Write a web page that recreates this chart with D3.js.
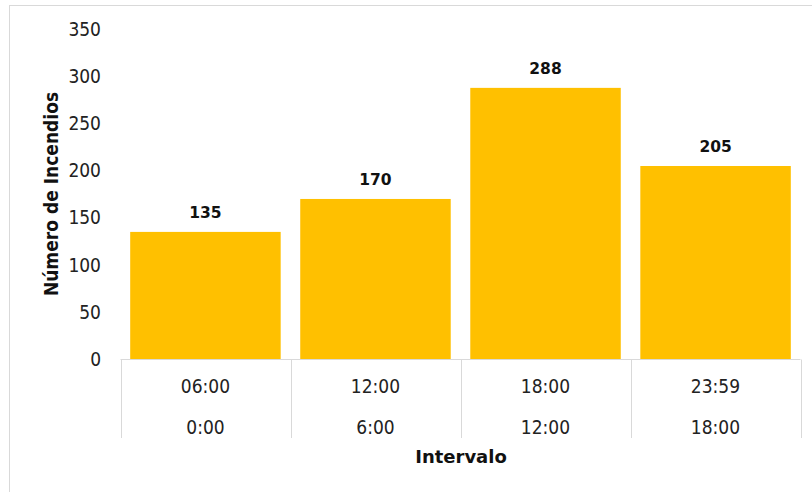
<!DOCTYPE html>
<html><head><meta charset="utf-8">
<script src="https://cdn.jsdelivr.net/npm/d3@7"></script>
<style>body{margin:0;background:#fff}svg{display:block}</style>
</head><body><svg id="c" width="812" height="492"></svg>
<script>
const categories = ["06:00|0:00", "12:00|6:00", "18:00|12:00", "23:59|18:00"];
const topLabels = ["06:00", "12:00", "18:00", "23:59"];
const bottomLabels = ["0:00", "6:00", "12:00", "18:00"];
const values = [135, 170, 288, 205];
const yTicks = [0, 50, 100, 150, 200, 250, 300, 350];

const svg = d3.select("#c");
const font = "'DejaVu Sans', Verdana, sans-serif";
const condFont = "'DejaVu Sans Condensed', 'DejaVu Sans', sans-serif";
// frame
svg.append("rect").attr("x", 9.5).attr("y", 5.5).attr("width", 812).attr("height", 500)
  .attr("fill", "none").attr("stroke", "#d9d9d9");

const x = d3.scaleBand().domain(categories).range([120.5, 800.5]).paddingInner(0.115).paddingOuter(0.057);
const xCell = d3.scaleBand().domain(categories).range([120.5, 800.5]);
const y = d3.scaleLinear().domain([0, 350]).range([359, 29.5]);

// y tick labels
svg.append("g").selectAll("text").data(yTicks).join("text")
  .attr("x", 101).attr("y", d => y(d)).attr("dy", "0.35em")
  .attr("text-anchor", "end").attr("font-family", condFont).attr("font-stretch", "condensed").attr("font-size", 19).attr("fill", "#222")
  .text(d => d);

// bars
svg.append("g").selectAll("rect").data(values).join("rect")
  .attr("x", (d, i) => x(categories[i])).attr("width", x.bandwidth())
  .attr("y", d => y(d)).attr("height", d => y(0) - y(d)).attr("fill", "#FFC000");

// value labels
svg.append("g").selectAll("text").data(values).join("text")
  .attr("x", (d, i) => x(categories[i]) + x.bandwidth() / 2).attr("y", d => y(d) - 19).attr("dy", "0.35em")
  .attr("text-anchor", "middle").attr("font-family", font).attr("font-size", 15.5).attr("font-weight", "bold").attr("fill", "#111")
  .text(d => d);

// table lines
const g = svg.append("g").attr("stroke", "#d9d9d9").attr("fill", "none");
g.append("line").attr("x1", 120.5).attr("x2", 800.5).attr("y1", 359.5).attr("y2", 359.5);
const bounds = categories.map(c => xCell(c)).concat([xCell.range()[1]]);
g.selectAll("line.v").data(bounds).join("line").attr("class", "v")
  .attr("x1", d => Math.round(d) + 0.5).attr("x2", d => Math.round(d) + 0.5).attr("y1", 359.5).attr("y2", 438);

// category labels
svg.append("g").selectAll("text").data(topLabels).join("text")
  .attr("x", (d, i) => xCell(categories[i]) + xCell.bandwidth() / 2).attr("y", 386).attr("dy", "0.35em")
  .attr("text-anchor", "middle").attr("font-family", condFont).attr("font-stretch", "condensed").attr("font-size", 19).attr("fill", "#222").text(d => d);
svg.append("g").selectAll("text").data(bottomLabels).join("text")
  .attr("x", (d, i) => xCell(categories[i]) + xCell.bandwidth() / 2).attr("y", 427).attr("dy", "0.35em")
  .attr("text-anchor", "middle").attr("font-family", condFont).attr("font-stretch", "condensed").attr("font-size", 19).attr("fill", "#222").text(d => d);

// axis titles
svg.append("text").attr("x", 461).attr("y", 457).attr("dy", "0.35em").attr("text-anchor", "middle")
  .attr("font-family", font).attr("font-size", 18).attr("font-weight", "bold").attr("fill", "#111").text("Intervalo");
svg.append("text").attr("transform", "translate(51,194) rotate(-90)").attr("dy", "0.35em").attr("text-anchor", "middle")
  .attr("font-family", condFont).attr("font-stretch", "condensed").attr("font-size", 19).attr("fill", "#111").attr("font-weight", 600).text("Número de Incendios");
</script></body></html>
